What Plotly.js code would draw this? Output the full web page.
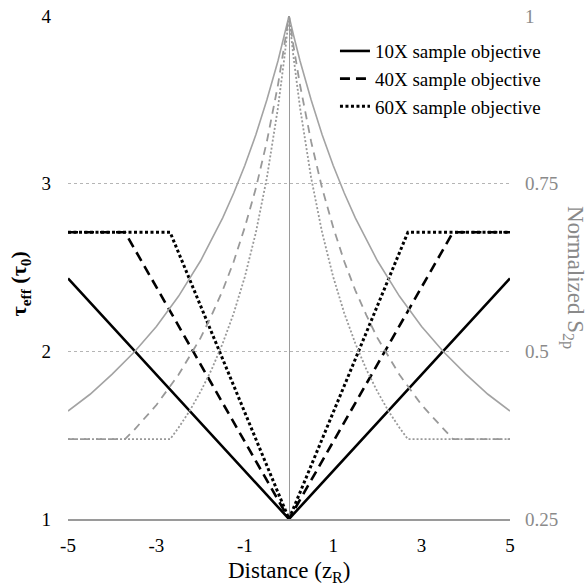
<!DOCTYPE html>
<html>
<head>
<meta charset="utf-8">
<script src="https://cdn.plot.ly/plotly-3.0.1.min.js"></script>
<style>html,body{margin:0;padding:0;background:#fff;}#chart{width:588px;height:586px;}</style>
</head>
<body>
<div id="chart"></div>
<script>
// Left axis: effective time constant (tau_eff / tau_0)
const seriesNames = ["10X sample objective", "40X sample objective", "60X sample objective"];
const x10 = [-5, 0, 5];
const tau10 = [2.435, 1, 2.435];
const x40 = [-5, -3.71, 0, 3.71, 5];
const tau40 = [2.71, 2.71, 1, 2.71, 2.71];
const x60 = [-5, -2.69, 0, 2.69, 5];
const tau60 = [2.71, 2.71, 1, 2.71, 2.71];

// Right axis: normalized S2p (gray curves)
const xs10 = [-5, -4.5, -4, -3.5, -3, -2.5, -2, -1.75, -1.5, -1.25, -1, -0.75, -0.5, -0.25, -0.1, 0,
              0.1, 0.25, 0.5, 0.75, 1, 1.25, 1.5, 1.75, 2, 2.5, 3, 3.5, 4, 4.5, 5];
const s10 = [0.411, 0.436, 0.466, 0.499, 0.537, 0.582, 0.635, 0.666, 0.699, 0.736, 0.777, 0.823, 0.875, 0.933, 0.972, 1,
             0.972, 0.933, 0.875, 0.823, 0.777, 0.736, 0.699, 0.666, 0.635, 0.582, 0.537, 0.499, 0.466, 0.436, 0.411];
const xs40 = [-5, -4.5, -4, -3.71, -3.5, -3, -2.5, -2, -1.75, -1.5, -1.25, -1, -0.75, -0.5, -0.25, -0.1, 0,
              0.1, 0.25, 0.5, 0.75, 1, 1.25, 1.5, 1.75, 2, 2.5, 3, 3.5, 3.71, 4, 4.5, 5];
const s40 = [0.369, 0.369, 0.369, 0.369, 0.383, 0.420, 0.465, 0.520, 0.554, 0.591, 0.634, 0.685, 0.743, 0.813, 0.897, 0.956, 1,
             0.956, 0.897, 0.813, 0.743, 0.685, 0.634, 0.591, 0.554, 0.520, 0.465, 0.420, 0.383, 0.369, 0.369, 0.369, 0.369];
const xs60 = [-5, -4, -3, -2.69, -2.5, -2.25, -2, -1.75, -1.5, -1.25, -1, -0.75, -0.5, -0.25, -0.1, 0,
              0.1, 0.25, 0.5, 0.75, 1, 1.25, 1.5, 1.75, 2, 2.25, 2.5, 2.69, 3, 4, 5];
const s60 = [0.369, 0.369, 0.369, 0.369, 0.386, 0.411, 0.440, 0.473, 0.512, 0.557, 0.611, 0.677, 0.759, 0.863, 0.940, 1,
             0.940, 0.863, 0.759, 0.677, 0.611, 0.557, 0.512, 0.473, 0.440, 0.411, 0.386, 0.369, 0.369, 0.369, 0.369];

const xTicks = [-5, -3, -1, 1, 3, 5];
const yTicks = [1, 2, 3, 4];
const y2Ticks = [0.25, 0.5, 0.75, 1];
const y2TickText = ["0.25", "0.5", "0.75", "1"];

const FONT = "Liberation Serif, Times New Roman, serif";
const GRAY = "#a3a3a3";

const traces = [
  {x: xs10, y: s10, yaxis: "y2", mode: "lines", showlegend: false, hoverinfo: "skip",
   line: {color: GRAY, width: 1.6}},
  {x: xs40, y: s40, yaxis: "y2", mode: "lines", showlegend: false, hoverinfo: "skip",
   line: {color: "#999", width: 1.8, dash: "8px,6px"}},
  {x: xs60, y: s60, yaxis: "y2", mode: "lines", showlegend: false, hoverinfo: "skip",
   line: {color: "#999", width: 1.8, dash: "2px,2px"}},
  {x: x10, y: tau10, name: seriesNames[0], legendgroup: "a", mode: "lines",
   line: {color: "#000", width: 2.6}},
  {x: x40, y: tau40, name: seriesNames[1], legendgroup: "b", mode: "lines",
   line: {color: "#000", width: 2.6, dash: "10px,6px"}},
  {x: x60, y: tau60, name: seriesNames[2], legendgroup: "c", mode: "lines",
   line: {color: "#000", width: 3, dash: "3px,2.5px"}}
];

const layout = {
  width: 588, height: 586,
  margin: {l: 68, r: 78, t: 16, b: 67, pad: 0},
  paper_bgcolor: "#fff", plot_bgcolor: "#fff",
  font: {family: FONT, size: 19, color: "#000"},
  showlegend: true,
  legend: {x: 0.604, y: 0.968, xanchor: "left", yanchor: "top", bgcolor: "rgba(0,0,0,0)",
           font: {family: FONT, size: 19, color: "#000"}, tracegroupgap: 0, itemwidth: 30,
           traceorder: "grouped"},
  xaxis: {range: [-5, 5], tickvals: xTicks, ticktext: xTicks.map(String), showgrid: false,
          zeroline: true, zerolinecolor: "#9a9a9a", zerolinewidth: 1,
          showline: true, linecolor: "#9a9a9a", linewidth: 1.5, ticks: "",
          ticklabelstandoff: 9, tickfont: {family: FONT, size: 19, color: "#000"}},
  yaxis: {range: [1, 4], tickvals: yTicks, ticktext: yTicks.map(String), showgrid: true,
          gridcolor: "#b5b5b5", griddash: "dot", gridwidth: 1, zeroline: false, showline: false,
          ticks: "", ticklabelstandoff: 16, tickfont: {family: FONT, size: 19, color: "#000"}},
  yaxis2: {range: [0.25, 1], overlaying: "y", side: "right", tickvals: y2Ticks, ticktext: y2TickText,
           showgrid: false, zeroline: false, showline: false, ticks: "", ticklabelstandoff: 14,
           tickfont: {family: FONT, size: 19, color: "#8a8a8a"}},
  annotations: [
    {text: "Distance (z<sub>R</sub>)", xref: "paper", yref: "paper", x: 0.5, y: -0.105,
     xanchor: "center", yanchor: "middle", showarrow: false,
     font: {family: FONT, size: 23, color: "#000"}},
    {text: "<b>τ<sub>eff</sub> (τ<sub>0</sub>)</b>", xref: "paper", yref: "paper", x: -0.109, y: 0.468,
     xanchor: "center", yanchor: "middle", showarrow: false, textangle: -90,
     font: {family: FONT, size: 22, color: "#000"}},
    {text: "Normalized S<sub>2p</sub>", xref: "paper", yref: "paper", x: 1.145, y: 0.481,
     xanchor: "center", yanchor: "middle", showarrow: false, textangle: 90,
     font: {family: FONT, size: 23, color: "#8a8a8a"}}
  ]
};

Plotly.newPlot("chart", traces, layout, {displayModeBar: false, staticPlot: true});
</script>
</body>
</html>
